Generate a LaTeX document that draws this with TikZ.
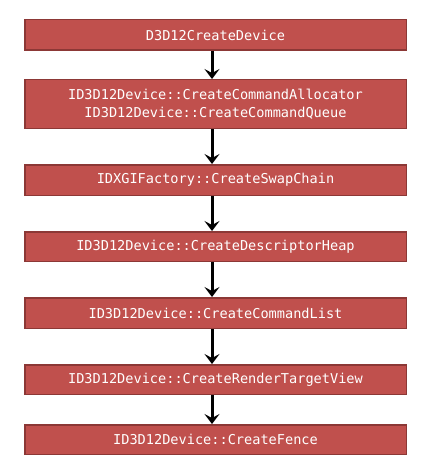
\documentclass[tikz,border=0pt]{standalone}
\usepackage{fontspec}
\setmonofont{DejaVu Sans Mono}
\usetikzlibrary{arrows.meta}
\definecolor{boxred}{HTML}{C0504D}
\definecolor{boxedge}{HTML}{8C3836}

\begin{document}
\begin{tikzpicture}[x=1pt, y=1pt,
    callbox/.style={draw=boxedge, line width=1.5pt, fill=boxred, text=white,
        font=\ttfamily\fontsize{13.6}{18}\selectfont, align=center,
        minimum width=381.5pt, inner sep=0pt},
    flow/.style={line width=3pt, -{Stealth[length=10pt, width=15pt, inset=4pt]}}]
    \useasboundingbox (0,0) rectangle (429,-476);
    % the calls, top to bottom
    \foreach \n/\y/\h/\t in {dev/35/30.5/D3D12CreateDevice,
        queue/104/48.5/{ID3D12Device::CreateCommandAllocator\\ID3D12Device::CreateCommandQueue},
        swap/180/30.5/IDXGIFactory::CreateSwapChain,
        heap/246.5/29.5/ID3D12Device::CreateDescriptorHeap,
        list/313/30.5/ID3D12Device::CreateCommandList,
        rtv/379.5/29.5/ID3D12Device::CreateRenderTargetView,
        fence/439.5/29.5/ID3D12Device::CreateFence}{
        \node[callbox, minimum height=\h pt] (\n) at (215.5,-\y) {\t};
    }
    \foreach \a/\b in {dev/queue, queue/swap, swap/heap, heap/list, list/rtv, rtv/fence}{
        \draw[flow] ([xshift=-3.5pt]\a.south) -- ([xshift=-3.5pt]\b.north);
    }
\end{tikzpicture}
\end{document}
